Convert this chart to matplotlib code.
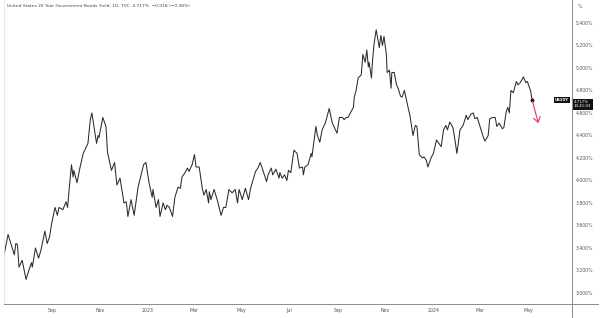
import numpy as np
import pandas as pd
import matplotlib
matplotlib.use("Agg")
import matplotlib.pyplot as plt
import matplotlib.dates as mdates
from matplotlib.lines import Line2D

# US 20Y yield, daily close (turning points)
dates = [
  "2022-07-02", "2022-07-07", "2022-07-11", "2022-07-15", "2022-07-17", "2022-07-19", "2022-07-21", "2022-07-25",
  "2022-07-30", "2022-08-02", "2022-08-06", "2022-08-07", "2022-08-11", "2022-08-15", "2022-08-18", "2022-08-23",
  "2022-08-26", "2022-08-29", "2022-09-01", "2022-09-05", "2022-09-08", "2022-09-10", "2022-09-15", "2022-09-19",
  "2022-09-21", "2022-09-23", "2022-09-26", "2022-09-28", "2022-09-29", "2022-10-03", "2022-10-07", "2022-10-11",
  "2022-10-15", "2022-10-17", "2022-10-20", "2022-10-22", "2022-10-28", "2022-10-30", "2022-10-31", "2022-11-05",
  "2022-11-09", "2022-11-11", "2022-11-16", "2022-11-20", "2022-11-23", "2022-11-27", "2022-12-02", "2022-12-05",
  "2022-12-07", "2022-12-11", "2022-12-15", "2022-12-20", "2022-12-27", "2022-12-30", "2023-01-03", "2023-01-07",
  "2023-01-08", "2023-01-12", "2023-01-15", "2023-01-17", "2023-01-21", "2023-01-24", "2023-01-26", "2023-01-29",
  "2023-02-02", "2023-02-05", "2023-02-09", "2023-02-12", "2023-02-14", "2023-02-18", "2023-02-21", "2023-02-23",
  "2023-02-27", "2023-03-02", "2023-03-04", "2023-03-08", "2023-03-12", "2023-03-14", "2023-03-17", "2023-03-20",
  "2023-03-21", "2023-03-23", "2023-03-27", "2023-03-31", "2023-04-05", "2023-04-08", "2023-04-11", "2023-04-15",
  "2023-04-19", "2023-04-23", "2023-04-26", "2023-04-28", "2023-05-02", "2023-05-06", "2023-05-10", "2023-05-13",
  "2023-05-19", "2023-05-22", "2023-05-25", "2023-05-27", "2023-06-02", "2023-06-04", "2023-06-08", "2023-06-10",
  "2023-06-14", "2023-06-18", "2023-06-19", "2023-06-22", "2023-06-25", "2023-06-28", "2023-06-30", "2023-07-03",
  "2023-07-07", "2023-07-11", "2023-07-14", "2023-07-18", "2023-07-19", "2023-07-21", "2023-07-25", "2023-07-29",
  "2023-07-30", "2023-08-04", "2023-08-06", "2023-08-09", "2023-08-12", "2023-08-16", "2023-08-18", "2023-08-21",
  "2023-08-25", "2023-08-27", "2023-08-31", "2023-09-03", "2023-09-07", "2023-09-09", "2023-09-12", "2023-09-14",
  "2023-09-17", "2023-09-21", "2023-09-22", "2023-09-24", "2023-09-27", "2023-10-01", "2023-10-03", "2023-10-06",
  "2023-10-08", "2023-10-10", "2023-10-11", "2023-10-14", "2023-10-15", "2023-10-17", "2023-10-20", "2023-10-23",
  "2023-10-24", "2023-10-26", "2023-10-28", "2023-10-30", "2023-11-02", "2023-11-03", "2023-11-06", "2023-11-08",
  "2023-11-09", "2023-11-12", "2023-11-15", "2023-11-17", "2023-11-20", "2023-11-22", "2023-11-25", "2023-11-29",
  "2023-11-30", "2023-12-02", "2023-12-06", "2023-12-09", "2023-12-11", "2023-12-14", "2023-12-18", "2023-12-20",
  "2023-12-23", "2023-12-25", "2023-12-29", "2024-01-01", "2024-01-05", "2024-01-07", "2024-01-11", "2024-01-14",
  "2024-01-17", "2024-01-19", "2024-01-22", "2024-01-26", "2024-01-29", "2024-01-31", "2024-02-02", "2024-02-04",
  "2024-02-08", "2024-02-12", "2024-02-14", "2024-02-18", "2024-02-21", "2024-02-23", "2024-02-26", "2024-03-01",
  "2024-03-05", "2024-03-07", "2024-03-11", "2024-03-13", "2024-03-17", "2024-03-20", "2024-03-22", "2024-03-25",
  "2024-03-29", "2024-03-31", "2024-04-03", "2024-04-05", "2024-04-07", "2024-04-09", "2024-04-12", "2024-04-16",
  "2024-04-18", "2024-04-21", "2024-04-25", "2024-04-28", "2024-04-30", "2024-05-04", "2024-05-06",
]
yields = [
  3.34, 3.52, 3.43, 3.34, 3.44, 3.43, 3.23, 3.29,
  3.12, 3.19, 3.27, 3.23, 3.40, 3.31, 3.38, 3.55,
  3.44, 3.50, 3.63, 3.76, 3.69, 3.76, 3.74, 3.81,
  3.76, 3.92, 4.14, 4.03, 4.09, 3.98, 4.12, 4.24,
  4.30, 4.33, 4.54, 4.60, 4.33, 4.40, 4.38, 4.56,
  4.48, 4.25, 4.09, 4.16, 3.96, 4.02, 3.80, 3.81,
  3.68, 3.83, 3.69, 3.94, 4.14, 4.16, 3.98, 3.85,
  3.92, 3.76, 3.83, 3.68, 3.80, 3.74, 3.78, 3.76,
  3.68, 3.85, 3.94, 3.93, 4.03, 4.07, 4.11, 4.08,
  4.14, 4.23, 4.12, 4.12, 3.93, 3.87, 3.92, 3.80,
  3.90, 3.83, 3.92, 3.83, 3.69, 3.76, 3.76, 3.92,
  3.89, 3.92, 3.80, 3.92, 3.83, 3.93, 3.83, 3.94,
  4.08, 4.11, 4.16, 4.12, 3.99, 4.05, 4.11, 4.05,
  4.10, 4.02, 4.07, 4.02, 4.05, 4.00, 4.09, 4.07,
  4.27, 4.24, 4.11, 4.12, 4.05, 4.12, 4.14, 4.24,
  4.21, 4.48, 4.40, 4.34, 4.45, 4.51, 4.56, 4.64,
  4.51, 4.48, 4.42, 4.56, 4.56, 4.54, 4.56, 4.56,
  4.60, 4.65, 4.74, 4.79, 4.91, 4.94, 5.12, 5.05,
  5.16, 5.01, 5.05, 4.91, 5.03, 5.20, 5.34, 5.22,
  5.18, 5.29, 5.20, 5.28, 5.12, 4.96, 4.98, 4.82,
  4.96, 4.96, 4.85, 4.82, 4.75, 4.74, 4.80, 4.67,
  4.64, 4.58, 4.40, 4.49, 4.48, 4.23, 4.20, 4.21,
  4.18, 4.12, 4.20, 4.24, 4.36, 4.34, 4.30, 4.45,
  4.49, 4.45, 4.52, 4.47, 4.34, 4.24, 4.34, 4.45,
  4.49, 4.58, 4.54, 4.59, 4.60, 4.55, 4.56, 4.47,
  4.38, 4.35, 4.40, 4.55, 4.56, 4.56, 4.48, 4.51,
  4.46, 4.47, 4.61, 4.65, 4.60, 4.80, 4.78, 4.88,
  4.85, 4.87, 4.92, 4.87, 4.88, 4.80, 4.717,
]

# hand-drawn projection arrow
arrow_dates = ["2024-05-06", "2024-05-14"]
arrow_yields = [4.717, 4.51]

ytick_vals = [3.0, 3.2, 3.4, 3.6, 3.8, 4.0, 4.2, 4.4, 4.6, 4.8, 5.0, 5.2, 5.4]
xtick_dates = ["2022-09-01", "2022-11-01", "2023-01-01", "2023-03-01", "2023-05-01", "2023-07-01",
               "2023-09-01", "2023-11-01", "2024-01-01", "2024-03-01", "2024-05-01"]
xtick_labels = ["Sep", "Nov", "2023", "Mar", "May", "Jul", "Sep", "Nov", "2024", "Mar", "May"]

title = "United States 20 Year Government Bonds Yield, 1D, TVC  4.717%  \u22120.018 (\u22120.38%)"

W, H = 602, 318
fig = plt.figure(figsize=(W/100, H/100), dpi=100)
fig.patch.set_facecolor("white")
ax = fig.add_axes([4/W, 14/H, 568/W, 304/H])

x = pd.to_datetime(dates)
ax.plot(x, yields, color="#2b2b2b", linewidth=0.75)
ax.plot(x[-1:], yields[-1:], "o", color="#111111", markersize=1.8)

ax.annotate("", xy=(pd.Timestamp(arrow_dates[1]), arrow_yields[1]),
            xytext=(pd.Timestamp(arrow_dates[0]), arrow_yields[0]),
            arrowprops=dict(arrowstyle="->,head_length=0.35,head_width=0.25", color="#e8365d", lw=0.8,
                            shrinkA=1, shrinkB=0))

ax.set_xlim(pd.Timestamp("2022-07-01 20:00"), pd.Timestamp("2024-06-26"))
ax.set_ylim(2.902, 5.604)

ax.yaxis.tick_right()
ax.set_yticks(ytick_vals)
ax.set_yticklabels(["%.3f%%" % v for v in ytick_vals])
ax.set_xticks(pd.to_datetime(xtick_dates))
ax.set_xticklabels(xtick_labels)
ax.tick_params(axis="y", length=0, pad=2.9, labelsize=3.3, labelcolor="#555555")
ax.tick_params(axis="x", length=0, pad=3.0, labelsize=3.4, labelcolor="#555555")
for lab in ax.get_yticklabels():
  lab.set_horizontalalignment("left")

for s in ["top", "right", "bottom"]:
  ax.spines[s].set_visible(False)
ax.spines["left"].set_color("#e4e4e4")
ax.spines["left"].set_linewidth(0.6)
ax.grid(False)

# price-scale / time-scale borders
fig.add_artist(Line2D([572/W, 572/W], [0, 1], color="#8c8c8c", lw=0.7))
fig.add_artist(Line2D([4/W, 598/W], [14/H, 14/H], color="#8c8c8c", lw=0.7))

fig.text(7/W, 1-6/H, title, fontsize=3.15, color="#444444", va="center", ha="left")
fig.text(578/W, 1-6/H, "%", fontsize=3.3, color="#555555", va="center", ha="left")

# symbol + last price tags
yl = yields[-1]
ax.text(1.0 - 3/568, yl, "US20Y", transform=ax.get_yaxis_transform(), fontsize=2.8, color="white",
        fontweight="bold", ha="right", va="center",
        bbox=dict(boxstyle="square,pad=0.25", fc="#111111", ec="none"))
ax.text(1.0 + 2/568, yl, "%.3f%%\n10:41:03" % yl, transform=ax.get_yaxis_transform(), fontsize=2.8,
        color="white", ha="left", va="top", linespacing=1.2,
        bbox=dict(boxstyle="square,pad=0.3", fc="#111111", ec="none"), clip_on=False)

fig.savefig("out.png", dpi=100, facecolor="white")
